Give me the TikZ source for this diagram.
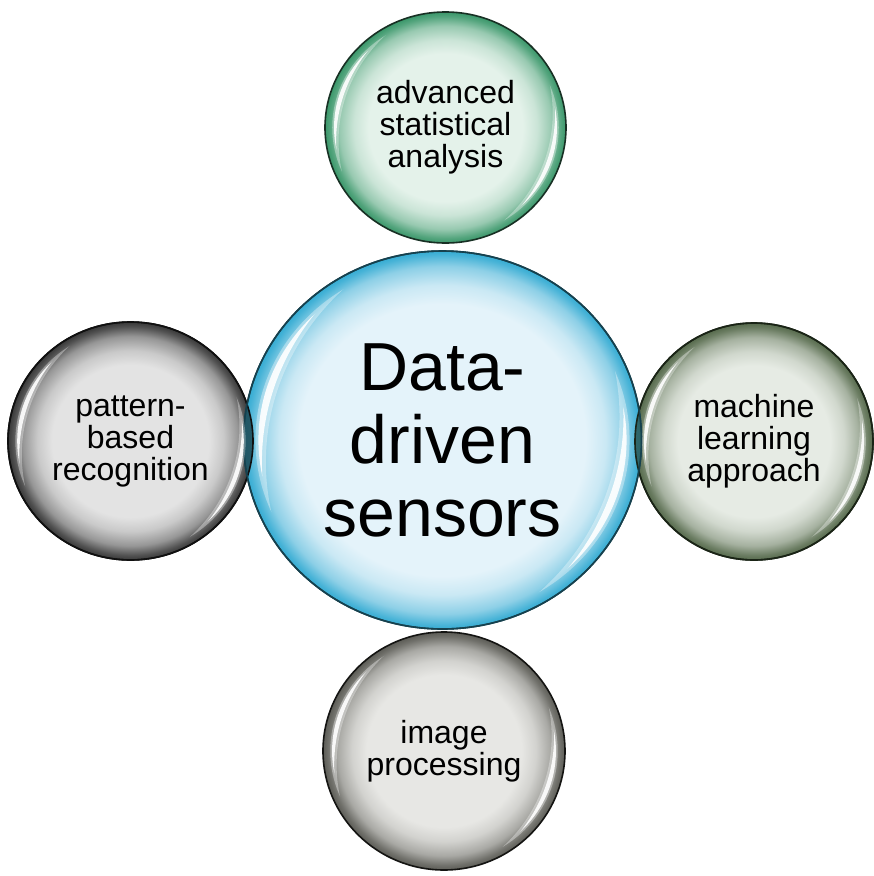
\documentclass[tikz,border=0pt]{standalone}
\usepackage{fontspec}
\setmainfont{Liberation Sans}
\usetikzlibrary{shapes.geometric}

% bubble colours: light core, darker rim, outline
\definecolor{blueIn}{HTML}{E4F3FA}
\definecolor{blueEdge}{HTML}{36ACD3}
\definecolor{blueLine}{HTML}{16414E}
\definecolor{greenIn}{HTML}{E4F2EA}
\definecolor{greenEdge}{HTML}{3A976A}
\definecolor{greenLine}{HTML}{183024}
\definecolor{greyIn}{HTML}{E3E3E3}
\definecolor{greyEdge}{HTML}{383838}
\definecolor{greyLine}{HTML}{101010}
\definecolor{oliveIn}{HTML}{E6EBE4}
\definecolor{oliveEdge}{HTML}{566A4C}
\definecolor{oliveLine}{HTML}{1A2416}
\definecolor{stoneIn}{HTML}{E7E7E4}
\definecolor{stoneEdge}{HTML}{5C5C56}
\definecolor{stoneLine}{HTML}{141412}
\definecolor{leftLens}{HTML}{1C4853}
\definecolor{rightLens}{HTML}{2B5956}

% radial shading: flat core that darkens towards the rim (rim = 25bp)
\newcommand{\bubbleshading}[3]{%
  \pgfdeclareradialshading{#1}{\pgfpointorigin}{%
    color(0bp)=(#2); color(16bp)=(#2); color(19bp)=(#2!85!#3);
    color(22bp)=(#2!55!#3); color(24bp)=(#2!15!#3); color(25bp)=(#3);
    color(50bp)=(#3)}}
\bubbleshading{bubbleGreen}{greenIn}{greenEdge}
\bubbleshading{bubbleGrey}{greyIn}{greyEdge}
\bubbleshading{bubbleOlive}{oliveIn}{oliveEdge}
\bubbleshading{bubbleStone}{stoneIn}{stoneEdge}
\pgfdeclareradialshading{bubbleBlue}{\pgfpointorigin}{%
  color(0bp)=(blueIn); color(18bp)=(blueIn); color(20.5bp)=(blueIn!85!blueEdge);
  color(23bp)=(blueIn!50!blueEdge); color(24.5bp)=(blueIn!10!blueEdge);
  color(25bp)=(blueEdge); color(50bp)=(blueEdge)}

% one crescent-shaped streak: inside circle r=#2, outside a circle of
% radius #4 whose centre is moved by #3 away from the streak's direction #1
\newcommand{\streak}[5]{%
  \begin{scope}
    \clip (0,0) circle (#2);
    \fill[white, fill opacity=#5, even odd rule]
      (-2,-2) rectangle (2,2) ({#1+180}:#3) circle (#4);
  \end{scope}}

% glossy white streaks inside the rim (upper left and lower right)
\newcommand{\glossy}[3]{%
  \begin{scope}[shift={(#1.center)}, x=#2pt, y=#3pt]
    \foreach \ang in {163,-18}{
      \streak{\ang}{0.94}{0.4}{1.27}{0.35}
      \streak{\ang}{0.925}{0.4}{1.29}{0.9}
    }
  \end{scope}}

\tikzset{
  bubble/.style={ellipse, inner sep=0pt, shade, line width=1.6pt,
    align=center, text=black, font=\fontsize{32}{32}\selectfont},
}

\begin{document}
\begin{tikzpicture}[x=1pt, y=-1pt]
  \fill[white] (0,0) rectangle (874,876);
  \path[use as bounding box] (0,0) rectangle (874,876);

  % outer bubbles
  \node[bubble, shading=bubbleGreen, draw=greenLine,
        minimum width=241pt, minimum height=231pt]
    (stat) at (445.5,127.5) {advanced\\statistical\\analysis};
  \node[bubble, shading=bubbleGrey, draw=greyLine,
        minimum width=245pt, minimum height=238pt]
    (patt) at (130.5,441) {pattern-\\based\\recognition};
  \node[bubble, shading=bubbleOlive, draw=oliveLine,
        minimum width=238pt, minimum height=237pt]
    (mach) at (754,441.5) {machine\\learning\\approach};
  \node[bubble, shading=bubbleStone, draw=stoneLine,
        minimum width=242pt, minimum height=238pt]
    (img) at (444,751) {image\\processing};

  % central bubble
  \node[bubble, shading=bubbleBlue, draw=blueLine,
        minimum width=398pt, minimum height=378pt,
        font=\fontsize{68}{73}\selectfont]
    (core) at (442.5,440) {Data-\\driven\\sensors};

  % darker lenses where the side bubbles overlap the centre
  \begin{scope}
    \clip (core.center) ellipse [x radius=199pt, y radius=189pt];
    \fill[leftLens, fill opacity=0.85]
      (patt.center) ellipse [x radius=122.5pt, y radius=119pt];
    \fill[rightLens, fill opacity=0.85]
      (mach.center) ellipse [x radius=119pt, y radius=118.5pt];
  \end{scope}
  \draw[greyLine, line width=1.6pt]
    (patt.center) ellipse [x radius=122.5pt, y radius=119pt];
  \draw[oliveLine, line width=1.6pt]
    (mach.center) ellipse [x radius=119pt, y radius=118.5pt];
  \draw[blueLine, line width=1.6pt]
    (core.center) ellipse [x radius=199pt, y radius=189pt];

  % gloss
  \glossy{stat}{120.5}{115.5}
  \glossy{patt}{122.5}{119}
  \glossy{mach}{119}{118.5}
  \glossy{img}{121}{119}
  \glossy{core}{199}{189}
\end{tikzpicture}
\end{document}
